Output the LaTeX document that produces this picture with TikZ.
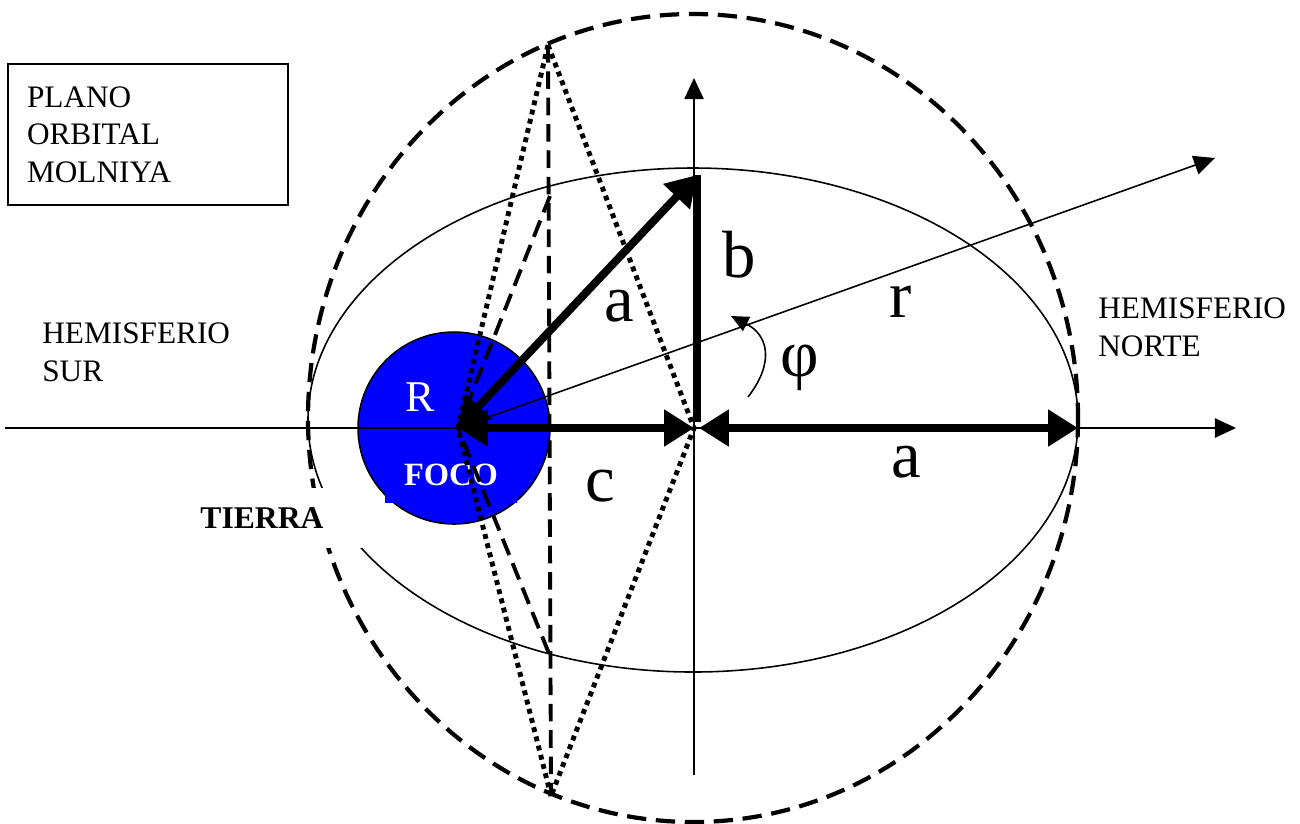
\documentclass[tikz,border=0pt]{standalone}
\usepackage{fontspec}
\setmainfont{Liberation Serif}
\usetikzlibrary{arrows.meta}
\definecolor{earthblue}{HTML}{0000FF}
\tikzset{
  thin line/.style={line width=0.9pt},
  axis/.style={line width=0.9pt, -{Triangle[length=12pt,width=11pt]}},
  vec/.style={line width=4.5pt, {Triangle[length=17pt,width=20pt]}-{Triangle[length=17pt,width=20pt]}},
  thickline/.style={line width=4.5pt},
  esfera/.style={line width=2.4pt, dash pattern=on 11pt off 5.5pt},
  trazos/.style={line width=2.2pt, dash pattern=on 10pt off 5pt},
  punteado/.style={line width=2.8pt, dash pattern=on 2.8pt off 2.6pt},
  earth/.style={circle, draw, thin line, fill=earthblue, minimum size=3.84cm, inner sep=0},
  foco/.style={fill=earthblue, text=white, inner sep=0, minimum width=2.66cm,
               minimum height=1.12cm, font=\bfseries\fontsize{18.5}{20}\selectfont},
  lbl/.style={inner sep=0, font=\fontsize{38}{40}\selectfont},
  hemi/.style={inner sep=0, anchor=base west, align=left, font=\fontsize{17.8}{21.5}\selectfont},
  caja/.style={draw, thin line, text width=4.84cm, align=left, inner xsep=0.38cm,
               minimum height=2.82cm, font=\fontsize{17.8}{21.3}\selectfont},
  tierra/.style={fill=white, inner sep=0, minimum width=4.12cm, minimum height=1.2cm,
                 font=\bfseries\fontsize{18}{20}\selectfont},
}
\begin{document}
\begin{tikzpicture}[x=0.02cm, y=-0.02cm]
\useasboundingbox (0,0) rectangle (1300,823);
\coordinate (F) at (458,428);
\coordinate (O) at (694,428);
\coordinate (Bt) at (697,175);
\coordinate (Bb) at (697,422);
\coordinate (Ol) at (699,428);
\coordinate (P) at (1078,428);
\coordinate (N) at (548,45);
\coordinate (S) at (551,796);
\coordinate (E1) at (550,196);
\coordinate (E2) at (550,656);
\coordinate (XL) at (5,428);
\coordinate (XR) at (1236,428);
\coordinate (YB) at (694,775);
\coordinate (YT) at (694,78);
\coordinate (RT) at (1215,158);
\coordinate (Q1) at (748,397);
\coordinate (Q2) at (731,316);

% tierra en el foco
\node[earth] (T) at (454,428) {};
\node[foco] (fc) at (451,475) {FOCO};
\node[inner sep=0, text=white, font=\fontsize{25}{27}\selectfont] (R) at (420,397) {R};

\draw[thin line] (693,420) ellipse [x radius=385, y radius=252];
\draw[esfera] (693,418) ellipse [x radius=385, y radius=404];

\draw[axis] (XL) -- (XR);
\draw[axis] (YB) -- (YT);
\draw[axis] (F) -- (RT);

\draw[trazos] (N) -- (S);
\draw[trazos] (E1) -- (F) -- (E2);
\draw[punteado] (N) -- (F) -- (S);
\draw[punteado] (N) -- (O) -- (S);

\draw[vec] (F) -- (Bt);
\draw[vec] (F) -- (O);
\draw[vec] (Ol) -- (P);
\draw[thickline] (Bt) -- (Bb);

\draw[thin line, -{Triangle[length=10pt,width=9pt]}] (Q1) .. controls (775,362) and (768,335) .. (Q2);

\node[lbl] (lb) at (739,255) {b};
\node[lbl] (la) at (619,306) {a};
\node[lbl] (lr) at (901,302) {r};
\node[lbl] (lf) at (800,368) {φ};
\node[lbl] (la2) at (906,462) {a};
\node[lbl] (lc) at (600,486) {c};

\node[tierra] (ti) at (262,518) {TIERRA};
\node[hemi] (hs) at (42,381) {HEMISFERIO\\SUR};
\node[hemi] (hn) at (1098,356) {HEMISFERIO\\NORTE};
\node[caja] (pl) at (148,134.5) {PLANO\\ORBITAL\\MOLNIYA};
\end{tikzpicture}
\end{document}
